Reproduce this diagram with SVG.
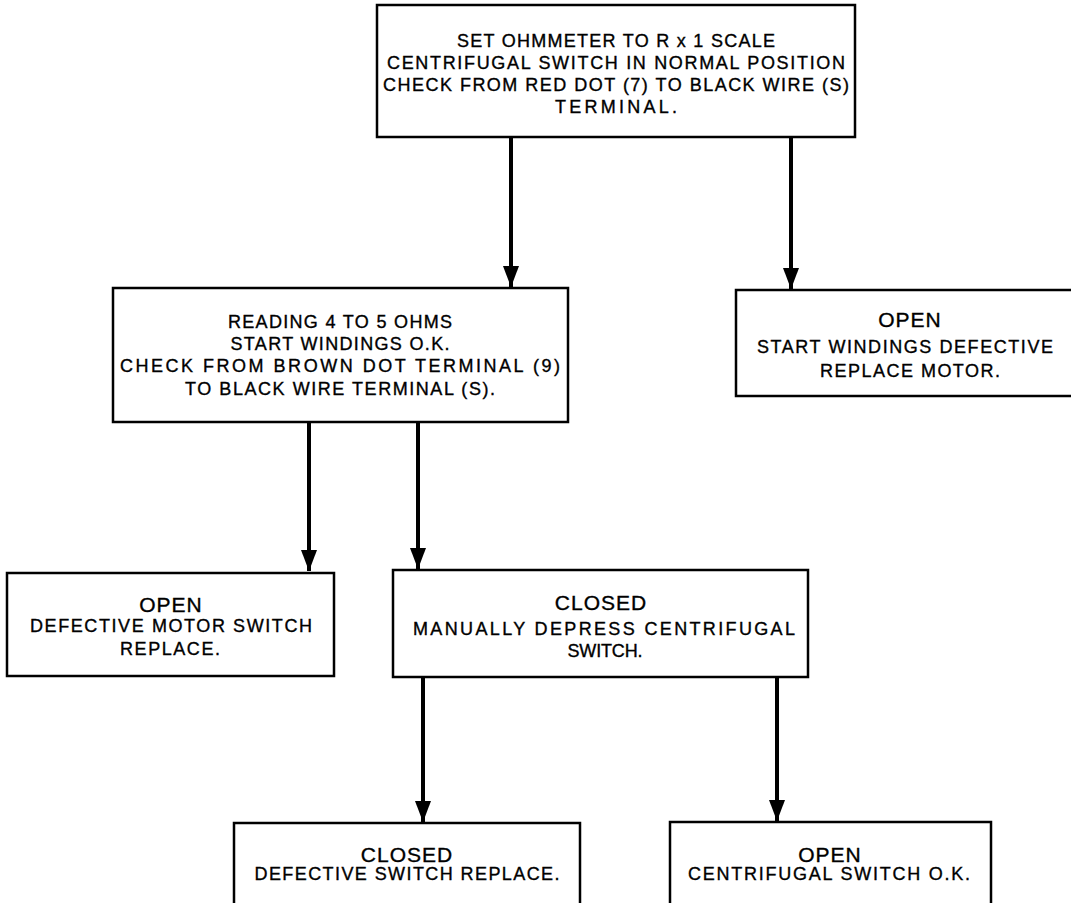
<svg xmlns="http://www.w3.org/2000/svg" width="1071" height="903" viewBox="0 0 1071 903">
<style>
.box{fill:#fff;stroke:#000;stroke-width:2.5}
.t{font-family:"Liberation Sans",Arial,sans-serif;font-size:18px;text-anchor:middle;fill:#000;stroke:#000;stroke-width:0.35}
.h{font-size:21px;letter-spacing:1px}
.c{stroke:#000;stroke-width:4;fill:none}
</style>
<defs>
<marker id="ah" markerUnits="userSpaceOnUse" markerWidth="21" markerHeight="16" refX="21" refY="8" orient="auto" viewBox="0 0 21 16">
<path d="M0,0 L21,8 L0,16 Z" fill="#000"/>
</marker>
</defs>
<rect width="1071" height="903" fill="#fff"/>
<g id="connectors">
<line class="c" x1="511" y1="138" x2="511" y2="287" marker-end="url(#ah)"/>
<line class="c" x1="791" y1="138" x2="791" y2="289" marker-end="url(#ah)"/>
<line class="c" x1="309" y1="423" x2="309" y2="571" marker-end="url(#ah)"/>
<line class="c" x1="418" y1="423" x2="418" y2="569" marker-end="url(#ah)"/>
<line class="c" x1="423" y1="678" x2="423" y2="822" marker-end="url(#ah)"/>
<line class="c" x1="777" y1="678" x2="777" y2="821" marker-end="url(#ah)"/>
</g>
<g id="n1">
<rect class="box" x="377" y="5" width="478" height="132"/>
<text class="t" x="616" y="47" textLength="318" lengthAdjust="spacing">SET OHMMETER TO R x 1 SCALE</text>
<text class="t" x="616" y="69" textLength="458" lengthAdjust="spacing">CENTRIFUGAL SWITCH IN NORMAL POSITION</text>
<text class="t" x="616" y="91" textLength="466" lengthAdjust="spacing">CHECK FROM RED DOT (7) TO BLACK WIRE (S)</text>
<text class="t" x="616" y="113" textLength="122" lengthAdjust="spacing">TERMINAL.</text>
</g>
<g id="n2">
<rect class="box" x="113" y="288" width="455" height="134"/>
<text class="t" x="340" y="328" textLength="224" lengthAdjust="spacing">READING 4 TO 5 OHMS</text>
<text class="t" x="340" y="350" textLength="219" lengthAdjust="spacing">START WINDINGS O.K.</text>
<text class="t" x="340" y="372" textLength="440" lengthAdjust="spacing">CHECK FROM BROWN DOT TERMINAL (9)</text>
<text class="t" x="340" y="395" textLength="310" lengthAdjust="spacing">TO BLACK WIRE TERMINAL (S).</text>
</g>
<g id="n3">
<rect class="box" x="736" y="290" width="350" height="106"/>
<text class="t h" x="910" y="327">OPEN</text>
<text class="t" x="905" y="353" textLength="296" lengthAdjust="spacing">START WINDINGS DEFECTIVE</text>
<text class="t" x="910" y="377" textLength="180" lengthAdjust="spacing">REPLACE MOTOR.</text>
</g>
<g id="n4">
<rect class="box" x="7" y="573" width="327" height="103"/>
<text class="t h" x="171" y="612">OPEN</text>
<text class="t" x="171" y="632" textLength="282" lengthAdjust="spacing">DEFECTIVE MOTOR SWITCH</text>
<text class="t" x="170" y="655" textLength="100" lengthAdjust="spacing">REPLACE.</text>
</g>
<g id="n5">
<rect class="box" x="393" y="570" width="415" height="107"/>
<text class="t h" x="601" y="610">CLOSED</text>
<text class="t" x="604" y="635" textLength="382" lengthAdjust="spacing">MANUALLY DEPRESS CENTRIFUGAL</text>
<text class="t" x="605" y="657" textLength="75" lengthAdjust="spacing">SWITCH.</text>
</g>
<g id="n6">
<rect class="box" x="234" y="823" width="346" height="100"/>
<text class="t h" x="407" y="862">CLOSED</text>
<text class="t" x="407" y="880" textLength="305" lengthAdjust="spacing">DEFECTIVE SWITCH REPLACE.</text>
</g>
<g id="n7">
<rect class="box" x="670" y="822" width="321" height="100"/>
<text class="t h" x="830" y="862">OPEN</text>
<text class="t" x="829" y="880" textLength="282" lengthAdjust="spacing">CENTRIFUGAL SWITCH O.K.</text>
</g>
</svg>
